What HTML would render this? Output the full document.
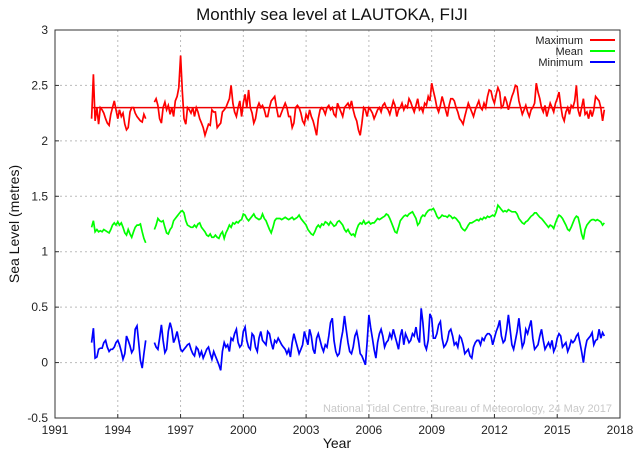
<!DOCTYPE html>
<html><head><meta charset="utf-8"><style>
html,body{margin:0;padding:0;background:#fff;}
svg{display:block;font-family:"Liberation Sans",sans-serif;}
</style></head><body>
<svg id="chart" width="640" height="454" viewBox="0 0 640 454">
<rect width="640" height="454" fill="#fff"/>
<text x="332" y="20" font-size="17" text-anchor="middle" fill="#111">Monthly sea level at LAUTOKA, FIJI</text>
<text transform="translate(19,224) rotate(-90)" font-size="14" text-anchor="middle" fill="#111">Sea Level (metres)</text>
<text x="337" y="448" font-size="14" text-anchor="middle" fill="#111">Year</text>
<g id="grid"></g>
<g id="series"></g>
<rect x="55" y="30" width="565" height="388" fill="none" stroke="#333" stroke-width="1"/>
<g id="axes"></g>
<g>
<text x="583" y="44" font-size="11" text-anchor="end" fill="#222">Maximum</text>
<line x1="590" y1="40" x2="615" y2="40" stroke="#f00" stroke-width="2"/>
<text x="583" y="55" font-size="11" text-anchor="end" fill="#222">Mean</text>
<line x1="590" y1="51" x2="615" y2="51" stroke="#0f0" stroke-width="2"/>
<text x="583" y="66" font-size="11" text-anchor="end" fill="#222">Minimum</text>
<line x1="590" y1="62" x2="615" y2="62" stroke="#00f" stroke-width="2"/>
</g>
<text x="612" y="412" font-size="11" text-anchor="end" fill="#c8c8c8">National Tidal Centre, Bureau of Meteorology, 24 May 2017</text>
</svg>
<script>
const startYear = 1992.75;
const yTicks = [-0.5, 0, 0.5, 1, 1.5, 2, 2.5, 3];
const xTicks = [1991, 1994, 1997, 2000, 2003, 2006, 2009, 2012, 2015, 2018];
const maxMean = 2.30;
const maxSeries = [
2.20,2.60,2.18,
2.30,2.15,2.30,2.28,2.25,2.20,2.16,2.14,2.24,2.30,2.36,2.28,
2.20,2.28,2.22,2.25,2.15,2.10,2.12,2.26,2.30,2.30,2.25,2.22,
2.20,2.18,2.17,2.24,2.20,null,null,null,null,2.35,2.38,2.32,
2.20,2.16,2.30,2.35,2.28,2.32,2.24,2.30,2.22,2.36,2.40,2.48,
2.77,2.45,2.20,2.15,2.30,2.28,2.25,2.30,2.22,2.30,2.26,2.20,
2.16,2.12,2.05,2.10,2.15,2.14,2.28,2.26,2.26,2.12,2.14,2.16,
2.26,2.28,2.30,2.34,2.38,2.50,2.34,2.26,2.22,2.30,2.36,2.22,
2.34,2.42,2.30,2.46,2.30,2.25,2.16,2.20,2.30,2.34,2.30,2.32,
2.28,2.22,2.22,2.30,2.36,2.38,2.40,2.30,2.22,2.22,2.26,2.30,
2.34,2.30,2.22,2.22,2.12,2.16,2.30,2.32,2.30,2.25,2.18,2.15,
2.24,2.20,2.28,2.22,2.18,2.12,2.05,2.20,2.28,2.30,2.28,2.24,
2.30,2.32,2.28,2.30,2.24,2.22,2.34,2.30,2.26,2.22,2.30,2.32,
2.34,2.30,2.36,2.28,2.22,2.18,2.10,2.05,2.16,2.30,2.28,2.22,
2.30,2.28,2.25,2.20,2.24,2.28,2.30,2.26,2.32,2.34,2.30,2.28,
2.24,2.30,2.36,2.32,2.22,2.28,2.30,2.34,2.28,2.32,2.30,2.38,
2.35,2.30,2.26,2.32,2.38,2.28,2.30,2.26,2.34,2.32,2.40,2.36,
2.52,2.45,2.38,2.30,2.26,2.32,2.40,2.34,2.28,2.22,2.32,2.38,
2.38,2.36,2.30,2.26,2.20,2.18,2.15,2.22,2.28,2.34,2.30,2.26,
2.22,2.28,2.32,2.36,2.30,2.28,2.34,2.30,2.40,2.46,2.45,2.38,
2.34,2.42,2.48,2.44,2.30,2.32,2.40,2.35,2.28,2.34,2.40,2.44,
2.50,2.49,2.36,2.30,2.24,2.28,2.32,2.26,2.22,2.28,2.30,2.34,
2.52,2.44,2.38,2.30,2.26,2.32,2.22,2.28,2.34,2.30,2.26,2.34,
2.38,2.44,2.32,2.22,2.18,2.26,2.30,2.24,2.32,2.30,2.36,2.50,
2.28,2.22,2.30,2.38,2.24,2.26,2.20,2.28,2.22,2.28,2.40,2.38,
2.36,2.30,2.18,2.28];
const meanSeries = [
1.22,1.28,1.18,
1.20,1.18,1.19,1.18,1.20,1.19,1.18,1.17,1.20,1.24,1.26,1.24,
1.27,1.24,1.26,1.22,1.17,1.15,1.20,1.16,1.13,1.18,1.22,1.24,
1.24,1.25,1.18,1.12,1.08,null,null,null,null,1.20,1.24,1.30,
1.28,1.27,1.28,1.22,1.17,1.16,1.20,1.22,1.28,1.30,1.32,1.34,
1.36,1.37,1.35,1.28,1.24,1.23,1.22,1.22,1.24,1.22,1.25,1.26,
1.22,1.20,1.18,1.15,1.14,1.16,1.13,1.13,1.15,1.13,1.12,1.16,
1.18,1.12,1.17,1.20,1.24,1.22,1.26,1.25,1.27,1.26,1.28,1.29,
1.34,1.33,1.30,1.28,1.30,1.32,1.34,1.31,1.30,1.29,1.30,1.34,
1.30,1.28,1.24,1.20,1.17,1.22,1.28,1.30,1.30,1.30,1.29,1.30,
1.31,1.30,1.29,1.30,1.31,1.29,1.30,1.31,1.33,1.30,1.28,1.26,
1.24,1.20,1.18,1.16,1.15,1.18,1.22,1.24,1.22,1.25,1.24,1.27,
1.26,1.24,1.27,1.25,1.23,1.24,1.27,1.28,1.26,1.24,1.20,1.18,
1.20,1.17,1.15,1.16,1.14,1.20,1.24,1.26,1.25,1.28,1.25,1.26,
1.27,1.25,1.26,1.26,1.28,1.30,1.29,1.30,1.31,1.32,1.34,1.33,
1.30,1.26,1.22,1.18,1.17,1.22,1.28,1.30,1.32,1.33,1.32,1.34,
1.35,1.36,1.33,1.30,1.24,1.26,1.31,1.33,1.32,1.35,1.37,1.38,
1.38,1.39,1.36,1.32,1.30,1.31,1.33,1.32,1.32,1.31,1.33,1.32,
1.30,1.31,1.30,1.28,1.26,1.22,1.20,1.19,1.21,1.24,1.26,1.26,
1.27,1.28,1.29,1.28,1.30,1.29,1.31,1.30,1.32,1.31,1.32,1.33,
1.32,1.36,1.42,1.40,1.38,1.36,1.37,1.36,1.38,1.37,1.36,1.36,
1.36,1.34,1.30,1.28,1.26,1.25,1.27,1.28,1.30,1.32,1.33,1.35,
1.35,1.33,1.31,1.30,1.28,1.26,1.24,1.22,1.24,1.23,1.21,1.26,
1.30,1.33,1.32,1.30,1.27,1.24,1.20,1.19,1.22,1.26,1.30,1.32,
1.31,1.24,1.16,1.11,1.20,1.24,1.26,1.28,1.29,1.29,1.28,1.29,
1.28,1.27,1.24,1.26];
const minSeries = [
0.18,0.31,0.04,
0.05,0.12,0.13,0.13,0.18,0.20,0.14,0.10,0.12,0.12,0.14,0.18,
0.20,0.16,0.10,0.03,0.08,0.24,0.20,0.15,0.09,0.12,0.30,0.33,
0.18,0.02,-0.05,0.08,0.20,null,null,null,null,0.18,0.14,0.12,
0.22,0.34,0.20,0.09,0.12,0.28,0.36,0.30,0.18,0.22,0.28,0.20,
0.12,0.10,0.12,0.14,0.16,0.17,0.12,0.08,0.06,0.14,0.12,0.06,
0.10,0.04,0.08,0.12,0.14,0.08,0.03,0.10,0.06,0.02,-0.02,-0.07,
0.10,0.18,0.14,0.16,0.10,0.22,0.20,0.26,0.30,0.18,0.14,0.16,
0.28,0.32,0.20,0.14,0.12,0.26,0.24,0.14,0.10,0.22,0.28,0.20,
0.18,0.16,0.28,0.26,0.18,0.12,0.20,0.18,0.22,0.19,0.16,0.14,
0.12,0.08,0.12,0.05,0.18,0.26,0.20,0.14,0.08,0.12,0.16,0.28,
0.22,0.16,0.30,0.24,0.12,0.08,0.22,0.26,0.20,0.14,0.10,0.16,
0.14,0.24,0.36,0.40,0.20,0.10,0.06,0.08,0.20,0.28,0.42,0.30,
0.18,0.10,0.08,0.14,0.24,0.28,0.20,0.08,0.06,0.02,-0.02,0.18,
0.43,0.32,0.22,0.12,0.04,0.18,0.26,0.30,0.24,0.14,0.18,0.20,
0.26,0.22,0.30,0.24,0.18,0.12,0.24,0.30,0.16,0.26,0.22,0.18,
0.20,0.26,0.24,0.32,0.22,0.18,0.49,0.36,0.16,0.12,0.20,0.44,
0.40,0.22,0.22,0.26,0.34,0.37,0.22,0.14,0.16,0.20,0.28,0.30,
0.24,0.16,0.18,0.14,0.24,0.22,0.16,0.08,0.10,0.12,0.06,0.04,
0.14,0.18,0.20,0.20,0.16,0.22,0.20,0.24,0.26,0.26,0.24,0.16,
0.22,0.28,0.32,0.38,0.24,0.18,0.20,0.30,0.43,0.30,0.16,0.12,
0.20,0.28,0.40,0.26,0.14,0.18,0.30,0.26,0.32,0.38,0.22,0.12,
0.14,0.16,0.24,0.30,0.20,0.12,0.15,0.18,0.14,0.20,0.10,0.14,
0.22,0.26,0.24,0.14,0.16,0.18,0.10,0.14,0.20,0.18,0.20,0.24,
0.26,0.18,0.10,0.00,0.12,0.20,0.22,0.24,0.27,0.16,0.20,0.21,
0.30,0.22,0.27,0.24];

const NS = 'http://www.w3.org/2000/svg';
const L = 55, R = 620, T = 30, B = 418;
function xScale(yr){ return L + (yr - 1991) / (2018 - 1991) * (R - L); }
function yScale(v){ return B - (v - (-0.5)) / (3 - (-0.5)) * (B - T); }
function mk(tag, parent){ const e = document.createElementNS(NS, tag); parent.appendChild(e); return e; }

const grid = document.getElementById('grid');
const axes = document.getElementById('axes');
yTicks.forEach(function(t){
  const y = yScale(t);
  if (t > -0.5 && t < 3) {
    const g = mk('line', grid);
    
    
    g.setAttribute('x1', L); g.setAttribute('x2', R); g.setAttribute('y1', y); g.setAttribute('y2', y);
    g.setAttribute('stroke', '#bbb'); g.setAttribute('stroke-dasharray', '2,3');
  }
  const tk = mk('line', axes);
  
  
  tk.setAttribute('x1', L); tk.setAttribute('x2', L + 4); tk.setAttribute('y1', y); tk.setAttribute('y2', y);
  tk.setAttribute('stroke', '#333');
  const tk2 = mk('line', axes);
  
  
  tk2.setAttribute('x1', R - 4); tk2.setAttribute('x2', R); tk2.setAttribute('y1', y); tk2.setAttribute('y2', y);
  tk2.setAttribute('stroke', '#333');
  const lb = mk('text', axes);
  
  
  lb.setAttribute('x', L - 7); lb.setAttribute('y', y + 4);
  lb.setAttribute('text-anchor', 'end'); lb.setAttribute('font-size', '12'); lb.setAttribute('fill', '#222');
  lb.textContent = String(t);
});
xTicks.forEach(function(t){
  const x = xScale(t);
  if (t > 1991 && t < 2018) {
    const g = mk('line', grid);
    
    
    g.setAttribute('x1', x); g.setAttribute('x2', x); g.setAttribute('y1', T); g.setAttribute('y2', B);
    g.setAttribute('stroke', '#bbb'); g.setAttribute('stroke-dasharray', '2,3');
  }
  const tk = mk('line', axes);
  
  
  tk.setAttribute('x1', x); tk.setAttribute('x2', x); tk.setAttribute('y1', B - 4); tk.setAttribute('y2', B);
  tk.setAttribute('stroke', '#333');
  const lb = mk('text', axes);
  
  
  lb.setAttribute('x', x); lb.setAttribute('y', B + 16);
  lb.setAttribute('text-anchor', 'middle'); lb.setAttribute('font-size', '12'); lb.setAttribute('fill', '#222');
  lb.textContent = String(t);
});

const series = document.getElementById('series');
function pathFor(arr){
  let d = '', pen = false;
  arr.forEach(function(v, i){
    if (v === null) { pen = false; return; }
    const x = xScale(startYear + i / 12), y = yScale(v);
    d += (pen ? 'L' : 'M') + x.toFixed(1) + ',' + y.toFixed(1);
    pen = true;
  });
  return d;
}
const endYear = startYear + (maxSeries.length - 1) / 12;
const ref = mk('line', series);


ref.setAttribute('x1', xScale(startYear)); ref.setAttribute('x2', xScale(endYear));
ref.setAttribute('y1', yScale(maxMean)); ref.setAttribute('y2', yScale(maxMean));
ref.setAttribute('stroke', '#e00'); ref.setAttribute('stroke-width', '1.5');

const pMax = mk('path', series);


pMax.setAttribute('d', pathFor(maxSeries));
pMax.setAttribute('fill', 'none'); pMax.setAttribute('stroke', '#f00'); pMax.setAttribute('stroke-width', '1.7');

const pMean = mk('path', series);


pMean.setAttribute('d', pathFor(meanSeries));
pMean.setAttribute('fill', 'none'); pMean.setAttribute('stroke', '#0f0'); pMean.setAttribute('stroke-width', '1.7');

const pMin = mk('path', series);


pMin.setAttribute('d', pathFor(minSeries));
pMin.setAttribute('fill', 'none'); pMin.setAttribute('stroke', '#00f'); pMin.setAttribute('stroke-width', '1.7');
</script>
</body></html>
